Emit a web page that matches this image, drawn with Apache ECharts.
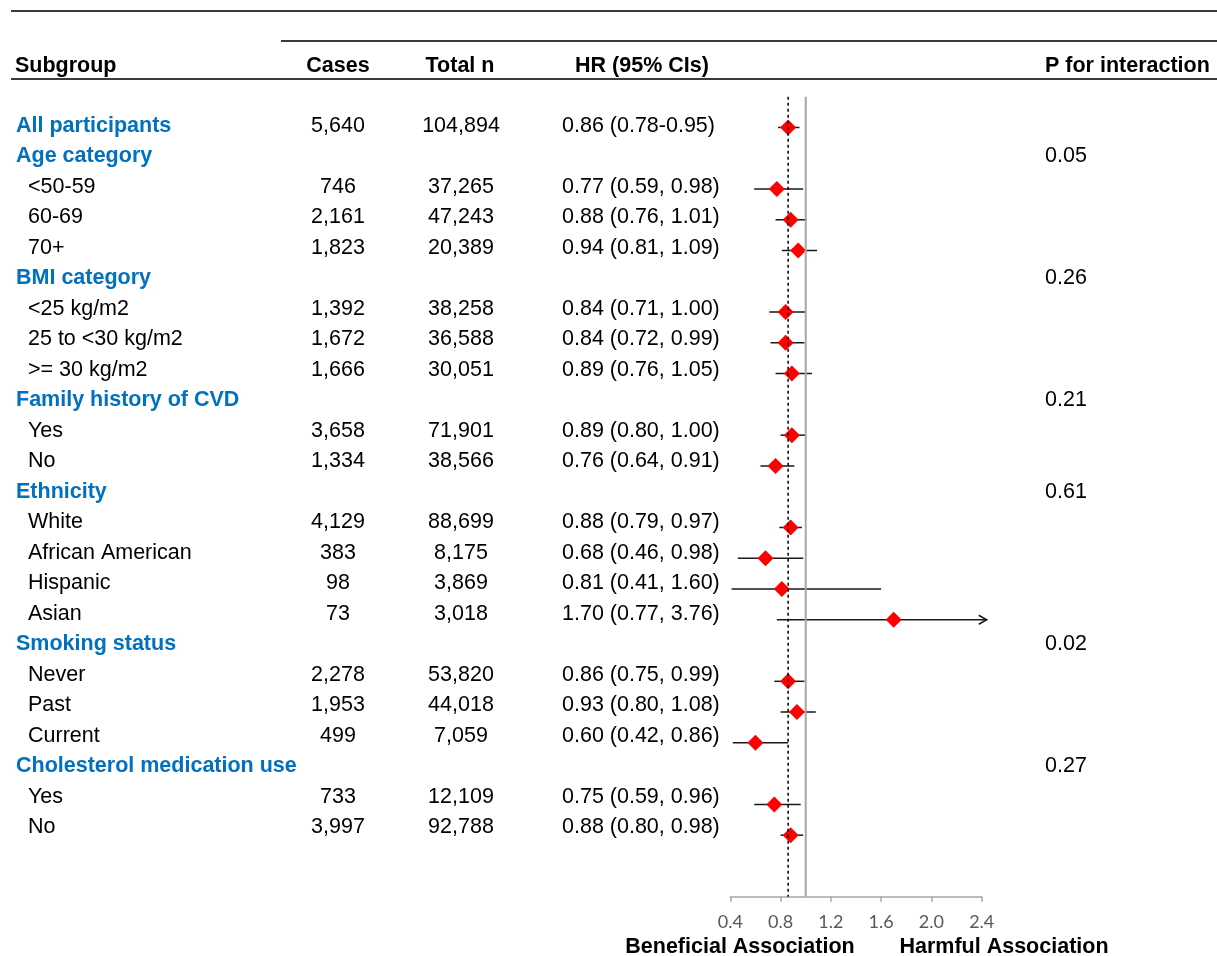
<!DOCTYPE html>
<html>
<head>
<meta charset="utf-8">
<script src="https://cdn.jsdelivr.net/npm/echarts@6/dist/echarts.min.js"></script>
<style>
html, body { margin: 0; padding: 0; background: #fff; }
#forest { width: 1217px; height: 956px; }
</style>
</head>
<body>
<div id="forest"></div>
<script>
// rows, top to bottom
const subgroups = ['All participants', 'Age category', '<50-59', '60-69', '70+',
  'BMI category', '<25 kg/m2', '25 to <30 kg/m2', '>= 30 kg/m2',
  'Family history of CVD', 'Yes', 'No',
  'Ethnicity', 'White', 'African American', 'Hispanic', 'Asian',
  'Smoking status', 'Never', 'Past', 'Current',
  'Cholesterol medication use', 'Yes', 'No'];
const isHeading = [1, 1, 0, 0, 0, 1, 0, 0, 0, 1, 0, 0, 1, 0, 0, 0, 0, 1, 0, 0, 0, 1, 0, 0];
const cases = ['5,640', '', '746', '2,161', '1,823', '', '1,392', '1,672', '1,666', '', '3,658', '1,334',
  '', '4,129', '383', '98', '73', '', '2,278', '1,953', '499', '', '733', '3,997'];
const totalN = ['104,894', '', '37,265', '47,243', '20,389', '', '38,258', '36,588', '30,051', '', '71,901', '38,566',
  '', '88,699', '8,175', '3,869', '3,018', '', '53,820', '44,018', '7,059', '', '12,109', '92,788'];
const hr = [0.86, null, 0.77, 0.88, 0.94, null, 0.84, 0.84, 0.89, null, 0.89, 0.76,
  null, 0.88, 0.68, 0.81, 1.70, null, 0.86, 0.93, 0.60, null, 0.75, 0.88];
const hrLow = [0.78, null, 0.59, 0.76, 0.81, null, 0.71, 0.72, 0.76, null, 0.80, 0.64,
  null, 0.79, 0.46, 0.41, 0.77, null, 0.75, 0.80, 0.42, null, 0.59, 0.80];
const hrHigh = [0.95, null, 0.98, 1.01, 1.09, null, 1.00, 0.99, 1.05, null, 1.00, 0.91,
  null, 0.97, 0.98, 1.60, 3.76, null, 0.99, 1.08, 0.86, null, 0.96, 0.98];
const pInteraction = ['', '0.05', '', '', '', '0.26', '', '', '', '0.21', '', '',
  '0.61', '', '', '', '', '0.02', '', '', '', '0.27', '', ''];
const xTicks = [0.4, 0.8, 1.2, 1.6, 2.0, 2.4];
const overallHR = 0.86;
const nullHR = 1;
const ciArrowAt = 2.44; // CIs past this get an arrow

const bodyFont = '21.5px "Liberation Sans", Arial, sans-serif';
const boldFont = 'bold 21.5px "Liberation Sans", Arial, sans-serif';
const blue = '#0070C0';

function txt(x, y, s, font, fill, align) {
  return {
    type: 'text', x: x, y: y, silent: true,
    style: { text: s, font: font, fill: fill, textAlign: align, textVerticalAlign: 'middle', align: align, verticalAlign: 'middle' }
  };
}
function rule(x1, y, x2, w) {
  return { type: 'line', silent: true, shape: { x1: x1, y1: y, x2: x2, y2: y }, style: { stroke: '#3a3a3a', lineWidth: w } };
}

// table text
let graphics = [
  rule(11, 11, 1217, 2), rule(281, 41, 1217, 2), rule(11, 79, 1217, 2),
  txt(15, 66, 'Subgroup', boldFont, '#000', 'left'),
  txt(338, 66, 'Cases', boldFont, '#000', 'center'),
  txt(460, 66, 'Total n', boldFont, '#000', 'center'),
  txt(642, 66, 'HR (95% CIs)', boldFont, '#000', 'center'),
  txt(1045, 66, 'P for interaction', boldFont, '#000', 'left'),
  txt(740, 947, 'Beneficial Association', boldFont, '#000', 'center'),
  txt(1004, 947, 'Harmful Association', boldFont, '#000', 'center')
];
const rowTop = 126, rowStep = 30.5;
subgroups.forEach(function (name, i) {
  const y = rowTop + i * rowStep;
  if (isHeading[i]) graphics.push(txt(16, y, name, boldFont, blue, 'left'));
  else graphics.push(txt(28, y, name, bodyFont, '#000', 'left'));
  if (cases[i]) graphics.push(txt(338, y, cases[i], bodyFont, '#000', 'center'));
  if (totalN[i]) graphics.push(txt(461, y, totalN[i], bodyFont, '#000', 'center'));
  if (hr[i] != null) {
    const sep = i === 0 ? '-' : ', ';
    const s = hr[i].toFixed(2) + ' (' + hrLow[i].toFixed(2) + sep + hrHigh[i].toFixed(2) + ')';
    graphics.push(txt(562, y, s, bodyFont, '#000', 'left'));
  }
  if (pInteraction[i]) graphics.push(txt(1045, y, pInteraction[i], bodyFont, '#000', 'left'));
});

const ciData = [], pointData = [];
hr.forEach(function (v, i) {
  if (v == null) return;
  ciData.push([hrLow[i], hrHigh[i], i]);
  pointData.push([v, i]);
});

let myChart = echarts.init(document.getElementById('forest'));
let option = {
  animation: false,
  grid: { left: 730.3, top: 96.7, width: 251.4, height: 800 },
  xAxis: {
    type: 'value',
    min: xTicks[0],
    max: xTicks[xTicks.length - 1],
    interval: xTicks[1] - xTicks[0],
    splitLine: { show: false },
    axisLine: { show: true, onZero: false, lineStyle: { color: '#a6a6a6', width: 1.5 } },
    axisTick: { show: true, inside: false, length: 5, lineStyle: { color: '#a6a6a6', width: 1.5 } },
    axisLabel: {
      margin: 16, color: '#595959', fontSize: 18, fontFamily: 'Lato',
      formatter: function (v) { return v.toFixed(1); }
    }
  },
  yAxis: { type: 'value', inverse: true, min: -1, max: 25, show: false },
  graphic: graphics,
  series: [
    {
      type: 'custom',
      clip: false,
      z: 2,
      encode: { x: [0, 1], y: 2 },
      data: ciData,
      renderItem: function (params, api) {
        const row = api.value(2);
        const hi = api.value(1);
        const clipped = hi > ciArrowAt;
        const a = api.coord([api.value(0), row]);
        const b = api.coord([clipped ? ciArrowAt : hi, row]);
        const kids = [{ type: 'line', shape: { x1: a[0], y1: a[1], x2: b[0], y2: b[1] }, style: { stroke: '#1a1a1a', lineWidth: 1.5 } }];
        if (clipped) {
          kids.push({
            type: 'polyline',
            shape: { points: [[b[0] - 8, b[1] - 4.5], [b[0], b[1]], [b[0] - 8, b[1] + 4.5]] },
            style: { stroke: '#1a1a1a', fill: null, lineWidth: 1.5 }
          });
        }
        return { type: 'group', children: kids };
      }
    },
    {
      type: 'scatter',
      z: 3,
      symbol: 'diamond',
      symbolSize: 16,
      itemStyle: { color: '#ff0000', opacity: 1 },
      data: pointData
    },
    {
      // reference lines, drawn over the diamonds
      type: 'custom',
      z: 10,
      clip: false,
      encode: { x: 0 },
      data: [[overallHR, 0], [nullHR, 1]],
      renderItem: function (params, api) {
        const v = api.value(0);
        const top = api.coord([v, -1]);
        const bot = api.coord([v, 25]);
        const dotted = api.value(1) === 0;
        return {
          type: 'line',
          shape: { x1: top[0], y1: top[1], x2: bot[0], y2: bot[1] },
          style: dotted
            ? { stroke: '#000', lineWidth: 1.5, lineDash: [3, 3] }
            : { stroke: '#a6a6a6', lineWidth: 2 }
        };
      }
    }
  ]
};
myChart.setOption(option, true);
window.addEventListener('resize', () => {
  myChart.resize();
});
</script>
</body>
</html>
